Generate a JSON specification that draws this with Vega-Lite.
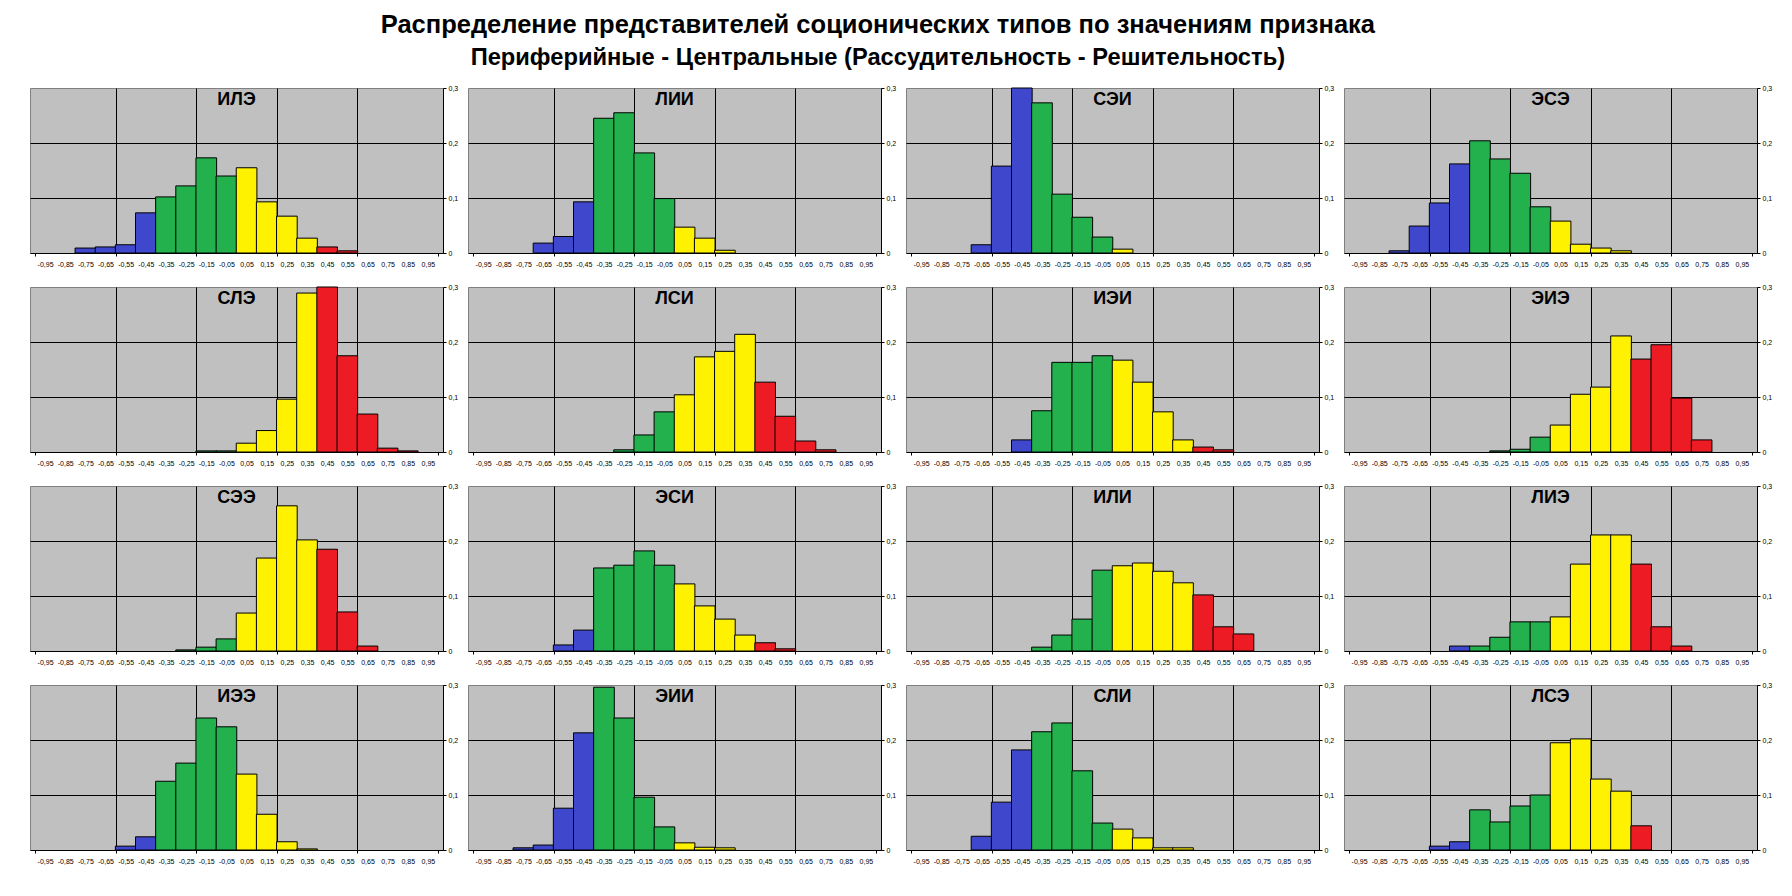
{
  "$schema": "https://vega.github.io/schema/vega-lite/v6.json",
  "padding": {"left": 29, "top": 13, "right": 5, "bottom": 5},
  "background": "white",
  "title": {
    "text": "Распределение представителей соционических типов по значениям признака",
    "subtitle": "\u00a0\u00a0\u00a0\u00a0\u00a0\u00a0Периферийные - Центральные (Рассудительность - Решительность)",
    "font": "Liberation Sans", "fontSize": 25.5, "fontWeight": "bold", "color": "black",
    "subtitleFont": "Liberation Sans", "subtitleFontSize": 23.7, "subtitleFontWeight": "bold", "subtitleColor": "black",
    "subtitlePadding": 7, "anchor": "middle", "offset": 13, "dx": -23
  },
  "data": {"values": [
    {"t":"ИЛЭ","x":-0.75,"v":0.009},{"t":"ИЛЭ","x":-0.65,"v":0.011},{"t":"ИЛЭ","x":-0.55,"v":0.015},{"t":"ИЛЭ","x":-0.45,"v":0.073},{"t":"ИЛЭ","x":-0.35,"v":0.102},{"t":"ИЛЭ","x":-0.25,"v":0.122},{"t":"ИЛЭ","x":-0.15,"v":0.173},{"t":"ИЛЭ","x":-0.05,"v":0.140},{"t":"ИЛЭ","x":0.05,"v":0.155},{"t":"ИЛЭ","x":0.15,"v":0.093},{"t":"ИЛЭ","x":0.25,"v":0.067},{"t":"ИЛЭ","x":0.35,"v":0.027},{"t":"ИЛЭ","x":0.45,"v":0.011},{"t":"ИЛЭ","x":0.55,"v":0.004},
    {"t":"ЛИИ","x":-0.65,"v":0.018},{"t":"ЛИИ","x":-0.55,"v":0.030},{"t":"ЛИИ","x":-0.45,"v":0.093},{"t":"ЛИИ","x":-0.35,"v":0.245},{"t":"ЛИИ","x":-0.25,"v":0.255},{"t":"ЛИИ","x":-0.15,"v":0.182},{"t":"ЛИИ","x":-0.05,"v":0.099},{"t":"ЛИИ","x":0.05,"v":0.047},{"t":"ЛИИ","x":0.15,"v":0.027},{"t":"ЛИИ","x":0.25,"v":0.005},
    {"t":"СЭИ","x":-0.65,"v":0.015},{"t":"СЭИ","x":-0.55,"v":0.158},{"t":"СЭИ","x":-0.45,"v":0.3},{"t":"СЭИ","x":-0.35,"v":0.273},{"t":"СЭИ","x":-0.25,"v":0.107},{"t":"СЭИ","x":-0.15,"v":0.065},{"t":"СЭИ","x":-0.05,"v":0.029},{"t":"СЭИ","x":0.05,"v":0.007},
    {"t":"ЭСЭ","x":-0.75,"v":0.004},{"t":"ЭСЭ","x":-0.65,"v":0.049},{"t":"ЭСЭ","x":-0.55,"v":0.091},{"t":"ЭСЭ","x":-0.45,"v":0.162},{"t":"ЭСЭ","x":-0.35,"v":0.204},{"t":"ЭСЭ","x":-0.25,"v":0.171},{"t":"ЭСЭ","x":-0.15,"v":0.145},{"t":"ЭСЭ","x":-0.05,"v":0.084},{"t":"ЭСЭ","x":0.05,"v":0.058},{"t":"ЭСЭ","x":0.15,"v":0.016},{"t":"ЭСЭ","x":0.25,"v":0.009},{"t":"ЭСЭ","x":0.35,"v":0.004},
    {"t":"СЛЭ","x":-0.15,"v":0.002},{"t":"СЛЭ","x":-0.05,"v":0.002},{"t":"СЛЭ","x":0.05,"v":0.016},{"t":"СЛЭ","x":0.15,"v":0.039},{"t":"СЛЭ","x":0.25,"v":0.096},{"t":"СЛЭ","x":0.35,"v":0.289},{"t":"СЛЭ","x":0.45,"v":0.3},{"t":"СЛЭ","x":0.55,"v":0.175},{"t":"СЛЭ","x":0.65,"v":0.069},{"t":"СЛЭ","x":0.75,"v":0.007},{"t":"СЛЭ","x":0.85,"v":0.002},
    {"t":"ЛСИ","x":-0.25,"v":0.004},{"t":"ЛСИ","x":-0.15,"v":0.031},{"t":"ЛСИ","x":-0.05,"v":0.073},{"t":"ЛСИ","x":0.05,"v":0.104},{"t":"ЛСИ","x":0.15,"v":0.173},{"t":"ЛСИ","x":0.25,"v":0.183},{"t":"ЛСИ","x":0.35,"v":0.214},{"t":"ЛСИ","x":0.45,"v":0.127},{"t":"ЛСИ","x":0.55,"v":0.065},{"t":"ЛСИ","x":0.65,"v":0.020},{"t":"ЛСИ","x":0.75,"v":0.004},
    {"t":"ИЭИ","x":-0.45,"v":0.022},{"t":"ИЭИ","x":-0.35,"v":0.075},{"t":"ИЭИ","x":-0.25,"v":0.163},{"t":"ИЭИ","x":-0.15,"v":0.163},{"t":"ИЭИ","x":-0.05,"v":0.175},{"t":"ИЭИ","x":0.05,"v":0.167},{"t":"ИЭИ","x":0.15,"v":0.127},{"t":"ИЭИ","x":0.25,"v":0.073},{"t":"ИЭИ","x":0.35,"v":0.022},{"t":"ИЭИ","x":0.45,"v":0.009},{"t":"ИЭИ","x":0.55,"v":0.004},
    {"t":"ЭИЭ","x":-0.25,"v":0.002},{"t":"ЭИЭ","x":-0.15,"v":0.005},{"t":"ЭИЭ","x":-0.05,"v":0.027},{"t":"ЭИЭ","x":0.05,"v":0.049},{"t":"ЭИЭ","x":0.15,"v":0.105},{"t":"ЭИЭ","x":0.25,"v":0.118},{"t":"ЭИЭ","x":0.35,"v":0.211},{"t":"ЭИЭ","x":0.45,"v":0.169},{"t":"ЭИЭ","x":0.55,"v":0.195},{"t":"ЭИЭ","x":0.65,"v":0.098},{"t":"ЭИЭ","x":0.75,"v":0.022},
    {"t":"СЭЭ","x":-0.25,"v":0.002},{"t":"СЭЭ","x":-0.15,"v":0.007},{"t":"СЭЭ","x":-0.05,"v":0.022},{"t":"СЭЭ","x":0.05,"v":0.069},{"t":"СЭЭ","x":0.15,"v":0.169},{"t":"СЭЭ","x":0.25,"v":0.264},{"t":"СЭЭ","x":0.35,"v":0.202},{"t":"СЭЭ","x":0.45,"v":0.185},{"t":"СЭЭ","x":0.55,"v":0.071},{"t":"СЭЭ","x":0.65,"v":0.009},
    {"t":"ЭСИ","x":-0.55,"v":0.011},{"t":"ЭСИ","x":-0.45,"v":0.038},{"t":"ЭСИ","x":-0.35,"v":0.151},{"t":"ЭСИ","x":-0.25,"v":0.156},{"t":"ЭСИ","x":-0.15,"v":0.182},{"t":"ЭСИ","x":-0.05,"v":0.156},{"t":"ЭСИ","x":0.05,"v":0.122},{"t":"ЭСИ","x":0.15,"v":0.082},{"t":"ЭСИ","x":0.25,"v":0.058},{"t":"ЭСИ","x":0.35,"v":0.029},{"t":"ЭСИ","x":0.45,"v":0.015},{"t":"ЭСИ","x":0.55,"v":0.004},
    {"t":"ИЛИ","x":-0.35,"v":0.007},{"t":"ИЛИ","x":-0.25,"v":0.029},{"t":"ИЛИ","x":-0.15,"v":0.058},{"t":"ИЛИ","x":-0.05,"v":0.147},{"t":"ИЛИ","x":0.05,"v":0.155},{"t":"ИЛИ","x":0.15,"v":0.160},{"t":"ИЛИ","x":0.25,"v":0.145},{"t":"ИЛИ","x":0.35,"v":0.124},{"t":"ИЛИ","x":0.45,"v":0.102},{"t":"ИЛИ","x":0.55,"v":0.044},{"t":"ИЛИ","x":0.65,"v":0.031},
    {"t":"ЛИЭ","x":-0.45,"v":0.009},{"t":"ЛИЭ","x":-0.35,"v":0.009},{"t":"ЛИЭ","x":-0.25,"v":0.025},{"t":"ЛИЭ","x":-0.15,"v":0.053},{"t":"ЛИЭ","x":-0.05,"v":0.053},{"t":"ЛИЭ","x":0.05,"v":0.062},{"t":"ЛИЭ","x":0.15,"v":0.158},{"t":"ЛИЭ","x":0.25,"v":0.211},{"t":"ЛИЭ","x":0.35,"v":0.211},{"t":"ЛИЭ","x":0.45,"v":0.158},{"t":"ЛИЭ","x":0.55,"v":0.044},{"t":"ЛИЭ","x":0.65,"v":0.009},
    {"t":"ИЭЭ","x":-0.55,"v":0.007},{"t":"ИЭЭ","x":-0.45,"v":0.024},{"t":"ИЭЭ","x":-0.35,"v":0.125},{"t":"ИЭЭ","x":-0.25,"v":0.158},{"t":"ИЭЭ","x":-0.15,"v":0.240},{"t":"ИЭЭ","x":-0.05,"v":0.224},{"t":"ИЭЭ","x":0.05,"v":0.138},{"t":"ИЭЭ","x":0.15,"v":0.065},{"t":"ИЭЭ","x":0.25,"v":0.015},{"t":"ИЭЭ","x":0.35,"v":0.002},
    {"t":"ЭИИ","x":-0.75,"v":0.004},{"t":"ЭИИ","x":-0.65,"v":0.009},{"t":"ЭИИ","x":-0.55,"v":0.076},{"t":"ЭИИ","x":-0.45,"v":0.213},{"t":"ЭИИ","x":-0.35,"v":0.296},{"t":"ЭИИ","x":-0.25,"v":0.240},{"t":"ЭИИ","x":-0.15,"v":0.096},{"t":"ЭИИ","x":-0.05,"v":0.042},{"t":"ЭИИ","x":0.05,"v":0.013},{"t":"ЭИИ","x":0.15,"v":0.005},{"t":"ЭИИ","x":0.25,"v":0.004},
    {"t":"СЛИ","x":-0.65,"v":0.025},{"t":"СЛИ","x":-0.55,"v":0.087},{"t":"СЛИ","x":-0.45,"v":0.182},{"t":"СЛИ","x":-0.35,"v":0.215},{"t":"СЛИ","x":-0.25,"v":0.231},{"t":"СЛИ","x":-0.15,"v":0.144},{"t":"СЛИ","x":-0.05,"v":0.049},{"t":"СЛИ","x":0.05,"v":0.038},{"t":"СЛИ","x":0.15,"v":0.022},{"t":"СЛИ","x":0.25,"v":0.004},{"t":"СЛИ","x":0.35,"v":0.004},
    {"t":"ЛСЭ","x":-0.55,"v":0.007},{"t":"ЛСЭ","x":-0.45,"v":0.015},{"t":"ЛСЭ","x":-0.35,"v":0.073},{"t":"ЛСЭ","x":-0.25,"v":0.051},{"t":"ЛСЭ","x":-0.15,"v":0.080},{"t":"ЛСЭ","x":-0.05,"v":0.100},{"t":"ЛСЭ","x":0.05,"v":0.195},{"t":"ЛСЭ","x":0.15,"v":0.202},{"t":"ЛСЭ","x":0.25,"v":0.129},{"t":"ЛСЭ","x":0.35,"v":0.107},{"t":"ЛСЭ","x":0.45,"v":0.044}
  ]},
  "facet": {
    "field": "t", "type": "nominal",
    "sort": ["ИЛЭ","ЛИИ","СЭИ","ЭСЭ","СЛЭ","ЛСИ","ИЭИ","ЭИЭ","СЭЭ","ЭСИ","ИЛИ","ЛИЭ","ИЭЭ","ЭИИ","СЛИ","ЛСЭ"],
    "header": {"title": null, "labelExpr": "''", "labelFontSize": 1, "labelPadding": 0}
  },
  "columns": 4,
  "spacing": {"row": 34, "column": 25},
  "bounds": "flush",
  "resolve": {"axis": {"x": "independent", "y": "independent"}},
  "spec": {
    "width": 413,
    "height": 165,
    "resolve": {"axis": {"x": "independent"}},
    "layer": [
      {
        "mark": {"type": "bar", "orient": "vertical", "width": 20.65, "stroke": "black", "strokeWidth": 1},
        "encoding": {
          "x": {
            "field": "x", "type": "quantitative",
            "scale": {"domain": [-1, 1], "nice": false, "zero": false},
            "axis": {
              "title": null, "orient": "bottom",
              "values": [-0.95,-0.85,-0.75,-0.65,-0.55,-0.45,-0.35,-0.25,-0.15,-0.05,0.05,0.15,0.25,0.35,0.45,0.55,0.65,0.75,0.85,0.95],
              "labelExpr": "replace(replace(format(datum.value, '.2f'), '.', ','), '\u2212', '-')",
              "labelFont": "Liberation Sans", "labelFontSize": 7, "labelColor": "black",
              "labelAngle": 0, "labelOverlap": false, "labelFlush": false, "labelPadding": 7,
              "grid": false, "ticks": false,
              "domainColor": "black", "domainWidth": 1
            }
          },
          "y": {
            "field": "v", "type": "quantitative",
            "scale": {"domain": [0, 0.3], "nice": false},
            "axis": {
              "title": null, "orient": "right",
              "values": [0, 0.1, 0.2, 0.3],
              "labelExpr": "datum.value == 0 ? '0' : replace(format(datum.value, '.1f'), '.', ',')",
              "labelFont": "Liberation Sans", "labelFontSize": 7, "labelColor": "black", "labelPadding": 2,
              "grid": true, "gridColor": "black", "gridWidth": 1,
              "gridOpacity": {"condition": {"test": "datum.value > 0.05 && datum.value < 0.25", "value": 1}, "value": 0},
              "tickColor": "black", "tickSize": 3, "tickWidth": 1,
              "domainColor": "black", "domainWidth": 1
            }
          },
          "color": {
            "field": "x", "type": "quantitative",
            "scale": {"type": "threshold", "domain": [-0.4, 0, 0.4], "range": ["#3F48CC", "#22B14C", "#FFF200", "#ED1C24"]},
            "legend": null
          }
        }
      },
      {
        "transform": [{"aggregate": [{"op": "count", "as": "n"}], "groupby": ["t"]}],
        "mark": {"type": "text", "font": "Liberation Sans", "fontSize": 18, "fontWeight": "bold", "color": "black", "align": "center", "baseline": "top", "dy": 3},
        "encoding": {
          "x": {
            "datum": 0, "type": "quantitative",
            "axis": {
              "title": null, "orient": "bottom",
              "values": [-1, -0.6, -0.2, 0.2, 0.6, 1],
              "labels": false, "domain": false,
              "grid": true, "gridColor": "black", "gridWidth": 1,
              "gridOpacity": {"condition": {"test": "abs(datum.value) < 0.9", "value": 1}, "value": 0},
              "ticks": true, "tickColor": "black", "tickSize": 3, "tickWidth": 1
            }
          },
          "y": {"datum": 0.3, "type": "quantitative"},
          "text": {"field": "t", "type": "nominal"}
        }
      }
    ]
  },
  "config": {
    "view": {"fill": "#C0C0C0", "stroke": "#808080", "strokeWidth": 1},
    "axis": {"gridCap": "butt"}
  }
}
